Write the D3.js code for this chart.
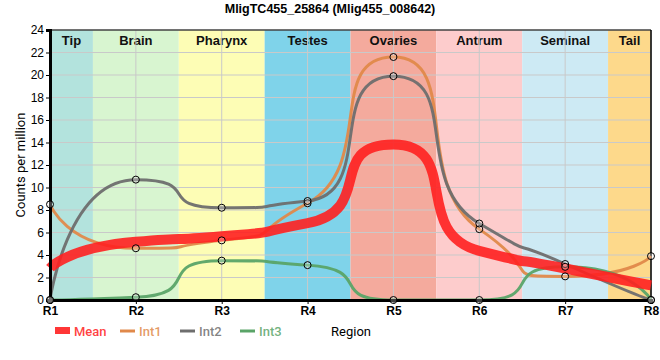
<!DOCTYPE html>
<html><head><meta charset="utf-8">
<script src="https://cdn.jsdelivr.net/npm/d3@7"></script>
<style>body{margin:0;background:#fff}</style>
</head><body><svg id="c" width="660" height="360"></svg>
<script>
const regions = ["R1","R2","R3","R4","R5","R6","R7","R8"];
const tissues = ["Tip","Brain","Pharynx","Testes","Ovaries","Antrum","Seminal","Tail"];
const tissueColors = ["#b3e3dd","#d8f5d0","#fdfdb5","#7fd3ea","#f4aa9d","#fdcccc","#cdeaf4","#fdd98b"];
const meanVals = [2.83, 5.17, 5.67, 6.83, 13.83, 4.37, 2.8, 1.3];
const int1 = [8.5, 4.6, 5.3, 8.6, 21.6, 6.3, 2.1, 3.9];
const int2 = [0, 10.7, 8.2, 8.8, 19.9, 6.8, 3.2, 0];
const int3 = [0, 0.25, 3.5, 3.1, 0, 0, 2.95, 0];
const yTicks = [0,2,4,6,8,10,12,14,16,18,20,22,24];
const seriesNames = ["Mean","Int1","Int2","Int3"];
const seriesColors = ["#ff2020","#e0894a","#6e6e6e","#5aa468"];

// spline curve: Bezier control points far from each point, flattened at local extrema
function SplineCurve(context){ this._context = context; }
SplineCurve.prototype = {
  areaStart(){}, areaEnd(){},
  lineStart(){ this._pts = []; },
  point(x, y){ this._pts.push([+x, +y]); },
  lineEnd(){
    const p = this._pts, c = this._context, s = 0.25, den = s + 1;
    if (!p.length) return;
    const ctrl = p.map(()=>null);
    for (let i = 1; i < p.length - 1; i++){
      const [px,py] = p[i], [lx,ly] = p[i-1], [nx,ny] = p[i+1];
      let lcx = (s*px + lx)/den, lcy = (s*py + ly)/den;
      let rcx = (s*px + nx)/den, rcy = (s*py + ny)/den;
      let corr = 0;
      if (rcx !== lcx) corr = ((rcy - lcy)*(rcx - px))/(rcx - lcx) + py - rcy;
      lcy += corr; rcy += corr;
      if (lcy > ly && lcy > py){ lcy = Math.max(ly, py); rcy = 2*py - lcy; }
      else if (lcy < ly && lcy < py){ lcy = Math.min(ly, py); rcy = 2*py - lcy; }
      if (rcy > ny && rcy > py){ rcy = Math.max(ny, py); lcy = 2*py - rcy; }
      else if (rcy < ny && rcy < py){ rcy = Math.min(ny, py); lcy = 2*py - rcy; }
      ctrl[i] = {lcx, lcy, rcx, rcy};
    }
    c.moveTo(p[0][0], p[0][1]);
    for (let i = 1; i < p.length; i++){
      const a = ctrl[i-1], b = ctrl[i];
      c.bezierCurveTo(a ? a.rcx : p[i-1][0], a ? a.rcy : p[i-1][1],
                      b ? b.lcx : p[i][0], b ? b.lcy : p[i][1], p[i][0], p[i][1]);
    }
  }
};
const curveSpline = ctx => new SplineCurve(ctx);

const svg = d3.select("#c");
const L=50, R=651, T=30, B=300;
const x = d3.scalePoint().domain(regions).range([L,R]);
const y = d3.scaleLinear().domain([0,24]).range([B,T]);
const step = x.step();

const g = svg.append("g");
tissues.forEach((t,i)=>{
  const cx = x(regions[i]);
  const x0 = Math.max(L, cx-step/2), x1 = Math.min(R, cx+step/2);
  g.append("rect").attr("x",x0).attr("y",T).attr("width",x1-x0).attr("height",B-T).attr("fill",tissueColors[i]);
  g.append("text").attr("x",(x0+x1)/2).attr("y",T+15).attr("text-anchor","middle")
    .attr("font-family","Liberation Sans, Arial, sans-serif").attr("font-weight","bold").attr("font-size",13)
    .attr("fill","#111").text(t);
});
svg.append("g").selectAll("line").data(yTicks).join("line")
  .attr("x1",L).attr("x2",R).attr("y1",d=>y(d)).attr("y2",d=>y(d)).attr("stroke","#c9c9c9").attr("stroke-width",1);
svg.append("g").selectAll("line").data(regions).join("line")
  .attr("x1",d=>x(d)).attr("x2",d=>x(d)).attr("y1",T).attr("y2",B).attr("stroke","#c9c9c9").attr("stroke-width",1);

svg.append("line").attr("x1",L).attr("x2",R).attr("y1",T).attr("y2",T).attr("stroke","#000");
svg.append("line").attr("x1",R).attr("x2",R).attr("y1",T).attr("y2",B).attr("stroke","#000").attr("stroke-width",1.5);

const line = d3.line().x((d,i)=>x(regions[i])).y(d=>y(d)).curve(curveSpline);
const series = [meanVals,int1,int2,int3];
[1,2,3].forEach(k=>{
  svg.append("path").attr("d",line(series[k])).attr("fill","none").attr("stroke",seriesColors[k]).attr("stroke-width",3).attr("stroke-opacity",0.95);
});
svg.append("path").attr("d",line(meanVals)).attr("fill","none").attr("stroke",seriesColors[0]).attr("stroke-width",10).attr("stroke-opacity",0.9);

const yAxis = d3.axisLeft(y).tickValues(yTicks).tickSize(4).tickPadding(2);
const ya = svg.append("g").attr("transform",`translate(${L},0)`).call(yAxis);
ya.select(".domain").attr("stroke","#000").attr("stroke-width",3);
ya.selectAll("text").attr("font-family","Liberation Sans, Arial, sans-serif").attr("font-size",12).attr("fill","#000");
const xAxis = d3.axisBottom(x).tickSize(4).tickPadding(2);
const xa = svg.append("g").attr("transform",`translate(0,${B})`).call(xAxis);
xa.select(".domain").attr("stroke","#000").attr("stroke-width",3);
xa.selectAll("text").attr("font-family","Liberation Sans, Arial, sans-serif").attr("font-size",12).attr("font-weight","bold").attr("fill","#000");

[1,2,3].forEach(k=>{
  svg.append("g").selectAll("circle").data(series[k]).join("circle")
    .attr("cx",(d,i)=>x(regions[i])).attr("cy",d=>y(d)).attr("r",3.5)
    .attr("fill","#fff").attr("fill-opacity",0.25).attr("stroke","#000").attr("stroke-width",1);
});

svg.append("text").attr("x",330).attr("y",13).attr("text-anchor","middle")
  .attr("font-family","Liberation Sans, Arial, sans-serif").attr("font-weight","bold").attr("font-size",12.5).text("MligTC455_25864 (Mlig455_008642)");
svg.append("text").attr("transform","translate(25,165) rotate(-90)").attr("text-anchor","middle")
  .attr("font-family","Roboto, sans-serif").attr("font-size",13).text("Counts per million");
svg.append("text").attr("x",351).attr("y",336).attr("text-anchor","middle")
  .attr("font-family","Roboto, sans-serif").attr("font-size",13).text("Region");

const lx = [55,120,180,240];
seriesNames.forEach((n,k)=>{
  if(k===0) svg.append("rect").attr("x",lx[k]).attr("y",327).attr("width",15).attr("height",7).attr("fill",seriesColors[0]).attr("fill-opacity",0.9);
  else svg.append("line").attr("x1",lx[k]).attr("x2",lx[k]+15).attr("y1",331).attr("y2",331).attr("stroke",seriesColors[k]).attr("stroke-width",3);
  svg.append("text").attr("x",lx[k]+19).attr("y",336).attr("font-family","Roboto, sans-serif").attr("font-size",13)
    .attr("font-weight",500).attr("fill",seriesColors[k]).attr("fill-opacity",0.85).text(n);
});
</script></body></html>
